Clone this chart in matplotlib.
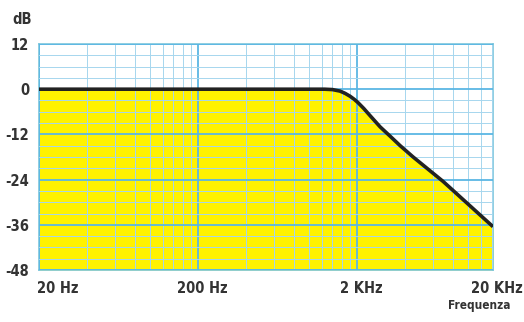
import matplotlib
matplotlib.use("Agg")
import matplotlib.pyplot as plt
import matplotlib.transforms as mtransforms
from matplotlib.ticker import FixedLocator, NullFormatter
import numpy as np

# Response (Hz, dB)
freq = [20, 500, 1000, 1250, 1400, 1560, 1680, 1810, 1920, 2030, 2200, 2410, 2790, 3230, 3730, 4500, 6950, 14300]
gain = [0, 0, 0, 0, -0.1, -0.5, -1.1, -1.9, -2.7, -3.6, -5.1, -7, -10, -12.5, -15, -18, -24.5, -36.5]

xtick_pos = [20, 200, 2000, 14300]
xtick_lab = ["20 Hz", "200 Hz", "2 KHz", "20 KHz"]
ytick_pos = [12, 0, -12, -24, -36, -48]
ytick_lab = ["12", "0", "-12", "-24", "-36", "-48"]

fam = ["Liberation Sans Narrow", "DejaVu Sans"]
txt_col = "#333333"
major_col = "#5ab6e4"
minor_col = "#a6d6ee"

fig = plt.figure(figsize=(5.24, 3.22), dpi=100)
W, H = 524, 322
ax = fig.add_axes([39 / W, 1 - 270 / H, (493 - 39) / W, (270 - 44) / H])

ax.set_xscale("log")
ax.set_xlim(20, 14300)
ax.set_ylim(-48, 12)

# grid
minor_x = [m * 20 * 10 ** k for k in range(3) for m in range(2, 10)]
ax.xaxis.set_major_locator(FixedLocator(xtick_pos))
ax.xaxis.set_minor_locator(FixedLocator(minor_x))
ax.xaxis.set_minor_formatter(NullFormatter())
ax.set_xticklabels(xtick_lab)
ax.yaxis.set_major_locator(FixedLocator(ytick_pos))
ax.yaxis.set_minor_locator(FixedLocator(np.arange(-48, 13, 3)))
ax.set_yticklabels(ytick_lab)

ax.grid(True, which="minor", color=minor_col, lw=0.7, zorder=2)
ax.grid(True, which="major", color=major_col, lw=1.3, zorder=2)
ax.set_axisbelow(False)

ax.fill_between(freq, gain, -48, color="#fff200", lw=0, zorder=1)
ax.plot(freq, gain, color="#222222", lw=2.6, solid_capstyle="butt", zorder=3)

for s in ax.spines.values():
    s.set_color("#7cc6dc")
    s.set_linewidth(1.2)

ax.tick_params(which="both", length=0)
ax.tick_params(axis="y", pad=7)
ax.tick_params(axis="x", pad=8)
for lab in ax.get_xticklabels() + ax.get_yticklabels():
    lab.set_family(fam)
    lab.set_fontweight("bold")
    lab.set_fontstretch("condensed")
    lab.set_fontsize(10.5)
    lab.set_color(txt_col)

xl = ax.get_xticklabels()
xl[0].set_ha("left")
for i, lab in enumerate(xl):
    dx = 4
    if i == 0:
        dx = -2
    lab.set_transform(lab.get_transform() + mtransforms.ScaledTranslation(dx / 100, 0, fig.dpi_scale_trans))

fig.text(22 / W, 1 - 20 / H, "dB", family=fam, fontweight="bold", fontstretch="condensed",
         fontsize=10.5, color=txt_col, ha="center", va="center")
fig.text(479 / W, 1 - 305 / H, "Frequenza", family=fam, fontweight="bold", fontstretch="condensed",
         fontsize=8.5, color=txt_col, ha="center", va="center")

fig.savefig("out.png", dpi=100, facecolor="white")
